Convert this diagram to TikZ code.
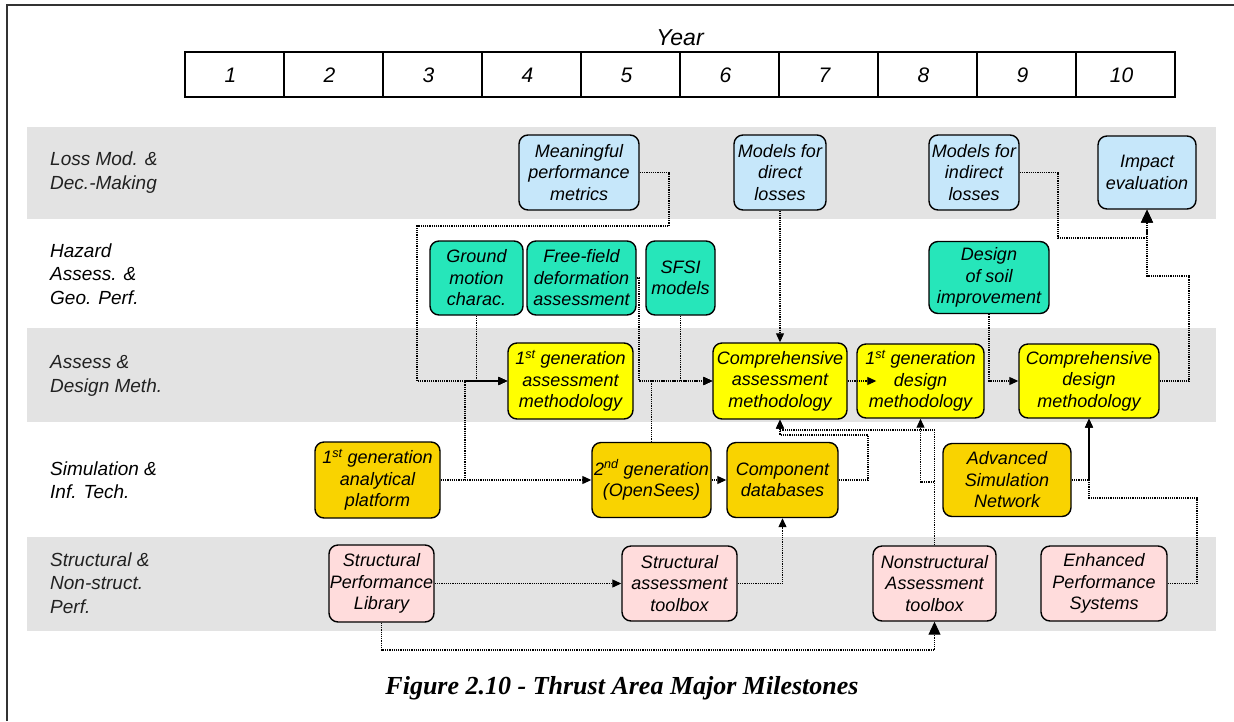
\documentclass[tikz,border=0pt]{standalone}
\usepackage{fontspec}
\setmainfont{Liberation Sans}
\newfontfamily\capfont{Liberation Serif}
\usetikzlibrary{arrows.meta}
\definecolor{bandgray}{HTML}{E3E3E3}
\definecolor{lossblue}{HTML}{C6E7FA}
\definecolor{hazgreen}{HTML}{26E6BA}
\definecolor{methyellow}{HTML}{FFFF00}
\definecolor{simgold}{HTML}{F9D300}
\definecolor{strpink}{HTML}{FFDCDC}
\definecolor{labelgray}{HTML}{222222}
\tikzset{
  box/.style={draw, line width=1.4pt, rounded corners=9pt, align=center,
    font=\itshape\fontsize{18}{21.5}\selectfont, inner sep=0pt},
  lossbox/.style={box, fill=lossblue},
  hazbox/.style={box, fill=hazgreen},
  methbox/.style={box, fill=methyellow},
  simbox/.style={box, fill=simgold},
  strbox/.style={box, fill=strpink},
  rowlabel/.style={anchor=west, align=left, inner sep=0pt,
    font=\itshape\fontsize{19}{23.5}\selectfont, text=labelgray},
  rowlabelb/.style={rowlabel, text=black},
  conn/.style={line width=1.1pt, dash pattern=on 1.2pt off 1pt},
  arr/.style={conn, -{Triangle[length=9pt,width=8pt]}},
  bigarr/.style={conn, -{Triangle[length=13pt,width=12pt]}},
  band/.style={fill=bandgray, draw=none},
  yearnum/.style={font=\itshape\fontsize{21}{24}\selectfont, inner sep=0pt}
}
\begin{document}
\begin{tikzpicture}[x=1pt,y=-1pt]
\useasboundingbox (0,0) rectangle (1234,721);
\fill[white] (0,0) rectangle (1234,721);
% frame
\draw[line width=2pt, black!80] (7,721) -- (7,5) -- (1234,5);
% bands
\fill[band] (27,127) rectangle (1216,219);
\fill[band] (27,328) rectangle (1216,422);
\fill[band] (27,537) rectangle (1216,631);
% year table
\node[font=\itshape\fontsize{23}{26}\selectfont, inner sep=0pt] (year) at (680,38) {Year};
\draw[line width=2pt] (185,52) rectangle (1175,97);
\foreach \i in {1,...,9} \draw[line width=1.5pt] ({185+99*\i},52) -- ({185+99*\i},97);
\foreach \i in {1,...,10} \node[yearnum] (y\i) at ({185+99*(\i-0.5)-4},75) {\i};
% row labels
\node[rowlabel] (l1) at (50,172.5) {Loss Mod. \&\\Dec.-Making};
\node[rowlabelb] (l2) at (50,274) {Hazard\\Assess. \&\\Geo. Perf.};
\node[rowlabel] (l3) at (50,376) {Assess \&\\Design Meth.};
\node[rowlabelb] (l4) at (50,480) {Simulation \&\\Inf. Tech.};
\node[rowlabel] (l5) at (50,583) {Structural \&\\Non-struct.\\Perf.};
% loss row
\node[lossbox, minimum width=120pt, minimum height=75pt] (mpm) at (579,172.5) {Meaningful\\performance\\metrics};
\node[lossbox, minimum width=92pt, minimum height=75pt] (mdl) at (780,172.5) {Models for\\direct\\losses};
\node[lossbox, minimum width=90pt, minimum height=75pt] (mil) at (974,172.5) {Models for\\indirect\\losses};
\node[lossbox, minimum width=98pt, minimum height=73pt] (ie) at (1147,172.5) {Impact\\evaluation};
% hazard row
\node[hazbox, minimum width=93pt, minimum height=74pt] (gm) at (476.5,278) {Ground\\motion\\charac.};
\node[hazbox, minimum width=109pt, minimum height=74pt] (ff) at (581.5,278) {Free-field\\deformation\\assessment};
\node[hazbox, minimum width=69pt, minimum height=74pt] (sfsi) at (680.5,278) {SFSI\\models};
\node[hazbox, minimum width=120pt, minimum height=72pt] (dsi) at (989,277.5) {Design\\of soil\\improvement};
% methodology row
\node[methbox, minimum width=125pt, minimum height=76pt] (ga) at (570.5,381) {1\textsuperscript{st} generation\\assessment\\methodology};
\node[methbox, minimum width=134pt, minimum height=76pt] (ca) at (780,381) {Comprehensive\\assessment\\methodology};
\node[methbox, minimum width=127pt, minimum height=74pt] (gd) at (920.5,381) {1\textsuperscript{st} generation\\design\\methodology};
\node[methbox, minimum width=140pt, minimum height=74pt] (cd) at (1089,381) {Comprehensive\\design\\methodology};
% simulation row
\node[simbox, minimum width=125pt, minimum height=76pt] (ap) at (377.5,480) {1\textsuperscript{st} generation\\analytical\\platform};
\node[simbox, minimum width=119pt, minimum height=75pt] (og) at (651.5,480) {2\textsuperscript{nd} generation\\(OpenSees)};
\node[simbox, minimum width=111pt, minimum height=75pt] (cdb) at (782.5,480) {Component\\databases};
\node[simbox, minimum width=128pt, minimum height=73pt] (asn) at (1007,480) {Advanced\\Simulation\\Network};
% structural row
\node[strbox, minimum width=105pt, minimum height=77pt] (spl) at (381.5,583.5) {Structural\\Performance\\Library};
\node[strbox, minimum width=115pt, minimum height=75pt] (sat) at (679.5,583.5) {Structural\\assessment\\toolbox};
\node[strbox, minimum width=123pt, minimum height=75pt] (nat) at (934.5,583.5) {Nonstructural\\Assessment\\toolbox};
\node[strbox, minimum width=126pt, minimum height=75pt] (eps) at (1104,583.5) {Enhanced\\Performance\\Systems};
% connectors
\draw[arr] (mpm.east) -| (669,226) -| (417,381) -- (ga.west);
\draw[arr] (gm.south) |- (ga.west);
\draw[arr] (ap.east) -- (465,480) |- (ga.west);
\draw[arr] (ap.east) -- (og.west);
\draw[arr] (ff.east) -- (639,278) |- (ca.west);
\draw[arr] (sfsi.south) |- (ca.west);
\draw[arr] (og.north) |- (ca.west);
\draw[arr] (mdl.south) -- (ca.north);
\draw[arr] (ca.east) -- ([xshift=20pt]gd.west);
\draw[arr] (og.east) -- (cdb.west);
\draw[arr] (cdb.east) -| (868,435) -| (ca.south);
\draw[arr] (nat.north) -- (934.5,430) -| (ca.south);
\draw[arr] (nat.north) -- (934.5,482) -| (gd.south);
\draw[arr] (asn.east) -| (cd.south);
\draw[arr] (eps.east) -| (1197,498) -| (cd.south);
\draw[arr] (dsi.south) |- (cd.west);
\draw[bigarr] (cd.east) -| (1189,276) -| (ie.south);
\draw[bigarr] (mil.east) -| (1058,238) -| (ie.south);
\draw[arr] (spl.east) -- (sat.west);
\draw[bigarr] (spl.south) -- (381.5,650) -| (nat.south);
\draw[arr] (sat.east) -| (cdb.south);
% caption
\node[font=\capfont\bfseries\itshape\fontsize{26}{30}\selectfont, inner sep=0pt] (cap) at (622,688) {Figure 2.10 - Thrust Area Major Milestones};
\end{tikzpicture}
\end{document}
